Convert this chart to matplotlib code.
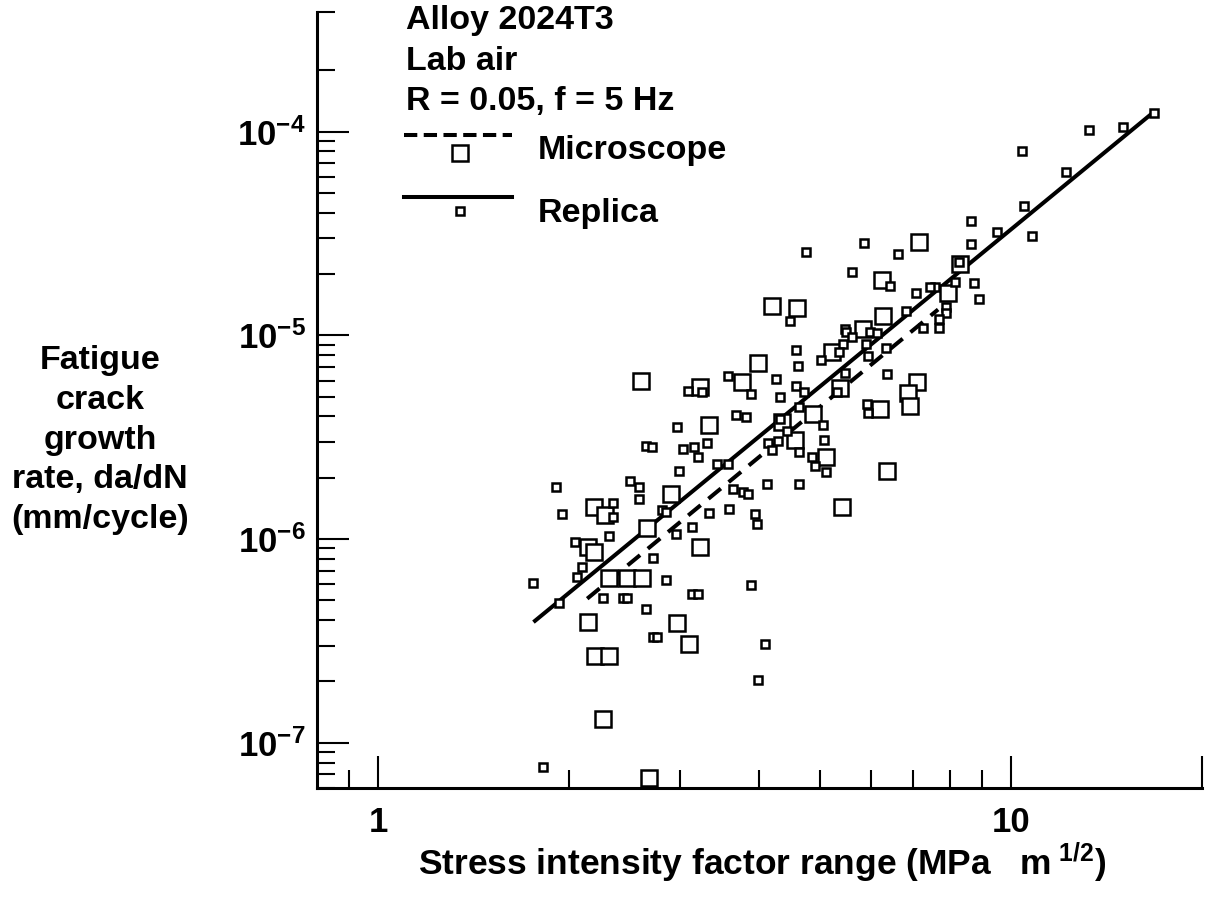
import matplotlib
matplotlib.use("Agg")
import matplotlib.pyplot as plt
from matplotlib.lines import Line2D
from matplotlib.ticker import FixedLocator, FixedFormatter, NullFormatter

plt.rcParams['font.family'] = ['Liberation Sans', 'DejaVu Sans']
plt.rcParams['font.weight'] = 'bold'
plt.rcParams['mathtext.fontset'] = 'custom'
plt.rcParams['mathtext.rm'] = 'Liberation Sans:bold'
plt.rcParams['mathtext.bf'] = 'Liberation Sans:bold'
plt.rcParams['mathtext.it'] = 'Liberation Sans:bold'
plt.rcParams['mathtext.default'] = 'rm'

# replica measurements (small squares): stress intensity range, growth rate
replica_dk = [3.09, 3.25, 2.97, 2.65, 2.71, 3.03, 3.16, 3.31, 3.20, 3.43, 3.57, 2.99,
              1.91, 2.50, 2.58, 2.58, 1.95, 2.35, 2.35, 2.81, 2.85, 3.33, 3.13, 2.96,
              2.32, 2.05, 2.72, 2.10, 2.06, 1.76, 1.93, 2.85, 2.27, 2.44, 2.47, 3.13,
              3.20, 2.65, 2.72, 2.76, 1.82,
              5.86, 4.75, 6.63, 5.61, 6.44, 4.48, 5.47, 5.49, 5.61, 5.99, 6.14, 5.43,
              5.35, 5.01, 5.90, 5.95, 6.35, 4.57, 4.61, 3.57, 3.89, 4.25, 4.57, 4.71,
              4.32, 5.47, 6.37, 5.31, 4.63, 5.92, 5.95, 4.32, 3.68, 3.81, 5.05, 4.43,
              4.13, 4.28, 4.63, 4.19, 5.07, 4.85, 4.90, 5.10, 4.12, 4.63, 3.64, 3.77,
              3.84, 3.59, 3.94, 3.97, 3.89, 4.09, 3.98,
              12.2, 10.5, 8.65, 9.50, 10.8, 8.65, 8.28, 8.16, 8.74, 8.90, 7.59, 7.45,
              7.08, 7.89, 7.89, 7.69, 7.69, 7.26, 6.83, 16.8, 15.0, 13.3, 10.4]
replica_dadn = [5.35e-6, 5.29e-6, 3.56e-6, 2.87e-6, 2.84e-6, 2.78e-6, 2.84e-6, 2.97e-6,
                2.54e-6, 2.34e-6, 2.34e-6, 2.17e-6, 1.81e-6, 1.93e-6, 1.81e-6, 1.58e-6,
                1.33e-6, 1.51e-6, 1.29e-6, 1.39e-6, 1.36e-6, 1.35e-6, 1.15e-6, 1.06e-6,
                1.04e-6, 9.71e-7, 8.10e-7, 7.32e-7, 6.54e-7, 6.11e-7, 4.87e-7, 6.32e-7,
                5.16e-7, 5.16e-7, 5.16e-7, 5.39e-7, 5.39e-7, 4.55e-7, 3.32e-7, 3.32e-7,
                7.63e-8,
                2.85e-5, 2.58e-5, 2.52e-5, 2.05e-5, 1.75e-5, 1.17e-5, 1.08e-5, 1.04e-5,
                9.85e-6, 1.04e-5, 1.03e-5, 9.10e-6, 8.32e-6, 7.60e-6, 9.10e-6, 7.95e-6,
                8.70e-6, 8.51e-6, 7.10e-6, 6.34e-6, 5.17e-6, 6.13e-6, 5.66e-6, 5.29e-6,
                5.00e-6, 6.56e-6, 6.49e-6, 5.29e-6, 4.47e-6, 4.62e-6, 4.17e-6, 3.90e-6,
                4.08e-6, 3.99e-6, 3.64e-6, 3.41e-6, 2.97e-6, 3.04e-6, 2.69e-6, 2.75e-6,
                3.08e-6, 2.54e-6, 2.29e-6, 2.14e-6, 1.87e-6, 1.87e-6, 1.77e-6, 1.71e-6,
                1.67e-6, 1.41e-6, 1.33e-6, 1.19e-6, 5.97e-7, 3.07e-7, 2.04e-7,
                6.36e-5, 4.33e-5, 3.66e-5, 3.23e-5, 3.09e-5, 2.82e-5, 2.30e-5, 1.83e-5,
                1.81e-5, 1.51e-5, 1.73e-5, 1.73e-5, 1.62e-5, 1.38e-5, 1.29e-5, 1.21e-5,
                1.09e-5, 1.09e-5, 1.31e-5, 1.24e-4, 1.05e-4, 1.02e-4, 8.07e-5]

# microscope measurements (large squares)
micro_dk = [2.60, 3.22, 3.33, 2.90, 2.19, 2.28, 2.66, 3.22, 2.15, 2.19, 2.32, 2.47,
            2.61, 2.15, 2.97, 3.10, 2.20, 2.32, 2.27, 2.68,
            6.26, 4.19, 4.59, 6.28, 5.84, 5.22, 3.98, 3.76, 5.37, 4.87, 6.21, 4.35,
            4.56, 5.10, 6.37, 5.41, 7.16, 8.31, 7.95, 7.10, 6.88, 6.93]
micro_dadn = [5.99e-6, 5.60e-6, 3.64e-6, 1.67e-6, 1.44e-6, 1.32e-6, 1.14e-6, 9.18e-7,
              9.18e-7, 8.67e-7, 6.46e-7, 6.46e-7, 6.46e-7, 3.93e-7, 3.89e-7, 3.07e-7,
              2.68e-7, 2.68e-7, 1.31e-7, 6.74e-8,
              1.88e-5, 1.40e-5, 1.37e-5, 1.24e-5, 1.08e-5, 8.32e-6, 7.35e-6, 5.93e-6,
              5.54e-6, 4.13e-6, 4.37e-6, 3.77e-6, 3.08e-6, 2.54e-6, 2.17e-6, 1.43e-6,
              2.88e-5, 2.25e-5, 1.62e-5, 5.93e-6, 5.23e-6, 4.52e-6]

# fitted lines (end points)
replica_fit_dk = [1.77, 16.6]
replica_fit_dadn = [3.97e-7, 1.21e-4]
micro_fit_dk = [2.14, 7.67]
micro_fit_dadn = [5.10e-7, 1.34e-5]

x_major = [1, 10, 20]
x_major_labels = ['1', '10', '']
x_minor = [0.9, 2, 3, 4, 5, 6, 7, 8, 9]
y_major = [1e-7, 1e-6, 1e-5, 1e-4]
y_major_labels = [r'$10^{-7}$', r'$10^{-6}$', r'$10^{-5}$', r'$10^{-4}$']
y_top = 3.85e-4
y_minor = [k * 10.0 ** e for e in range(-8, -4) for k in range(2, 10)] + [2e-4, y_top]

W, H = 1210, 901
fig = plt.figure(figsize=(W / 100, H / 100), dpi=100)
ax = fig.add_axes([316.7 / W, 1 - 788 / H, 884.9 / W, 775.6 / H])
ax.set_xscale('log')
ax.set_yscale('log')
ax.set_xlim(0.8, 20)
ax.set_ylim(6e-8, y_top)

dash = (0, (4, 2.5))
ms_big, ms_small, mew = 11.5, 5.4, 1.8
ax.plot(replica_fit_dk, replica_fit_dadn, color='black', lw=2.9, zorder=2)
ax.plot(micro_fit_dk, micro_fit_dadn, color='black', lw=2.9, ls=dash, zorder=2)
ax.plot(micro_dk, micro_dadn, ls='none', marker='s', ms=ms_big, mfc='white',
        mec='black', mew=mew, clip_on=False, zorder=3)
ax.plot(replica_dk, replica_dadn, ls='none', marker='s', ms=ms_small, mfc='white',
        mec='black', mew=mew, clip_on=False, zorder=4)

for s in ['top', 'right']:
    ax.spines[s].set_visible(False)
for s in ['left', 'bottom']:
    ax.spines[s].set_linewidth(2.2)

ax.xaxis.set_major_locator(FixedLocator(x_major))
ax.xaxis.set_major_formatter(FixedFormatter(x_major_labels))
ax.xaxis.set_minor_locator(FixedLocator(x_minor))
ax.xaxis.set_minor_formatter(NullFormatter())
ax.yaxis.set_major_locator(FixedLocator(y_major))
ax.yaxis.set_major_formatter(FixedFormatter(y_major_labels))
ax.yaxis.set_minor_locator(FixedLocator([v for v in y_minor if v > 6e-8]))
ax.yaxis.set_minor_formatter(NullFormatter())
ax.tick_params(which='both', direction='in', width=1.5, labelsize=25)
ax.tick_params(which='major', length=23)
ax.tick_params(which='minor', length=13)
ax.tick_params(axis='x', which='major', pad=13)
ax.tick_params(axis='y', which='major', pad=8)

def fx(px):
    return px / W

def fy(py):
    return 1 - py / H

fs = 24.5
fig.text(fx(406), fy(29), 'Alloy 2024T3', fontsize=fs, va='baseline')
fig.text(fx(406), fy(70), 'Lab air', fontsize=fs, va='baseline')
fig.text(fx(406), fy(110), 'R = 0.05, f = 5 Hz', fontsize=fs, va='baseline')
fig.add_artist(Line2D([fx(404), fx(512)], [fy(135), fy(135)], color='black',
                      lw=2.9, ls=(0, (3.3, 1.6))))
fig.add_artist(Line2D([fx(460)], [fy(153)], ls='none', marker='s', ms=ms_big,
                      mfc='white', mec='black', mew=mew))
fig.text(fx(538), fy(159), 'Microscope', fontsize=fs, va='baseline')
fig.add_artist(Line2D([fx(404), fx(512)], [fy(197), fy(197)], color='black', lw=2.9))
fig.add_artist(Line2D([fx(460)], [fy(211)], ls='none', marker='s', ms=ms_small,
                      mfc='white', mec='black', mew=mew))
fig.text(fx(538), fy(222), 'Replica', fontsize=fs, va='baseline')

fig.text(fx(100), fy(440), 'Fatigue\ncrack\ngrowth\nrate, da/dN\n(mm/cycle)',
         fontsize=fs, ha='center', va='center', multialignment='center',
         linespacing=1.37)
fig.text(fx(762), fy(875), r'Stress intensity factor range (MPa   m$^{\ 1/2}$)',
         fontsize=25.5, ha='center', va='baseline')

fig.savefig('out.png', dpi=100)
